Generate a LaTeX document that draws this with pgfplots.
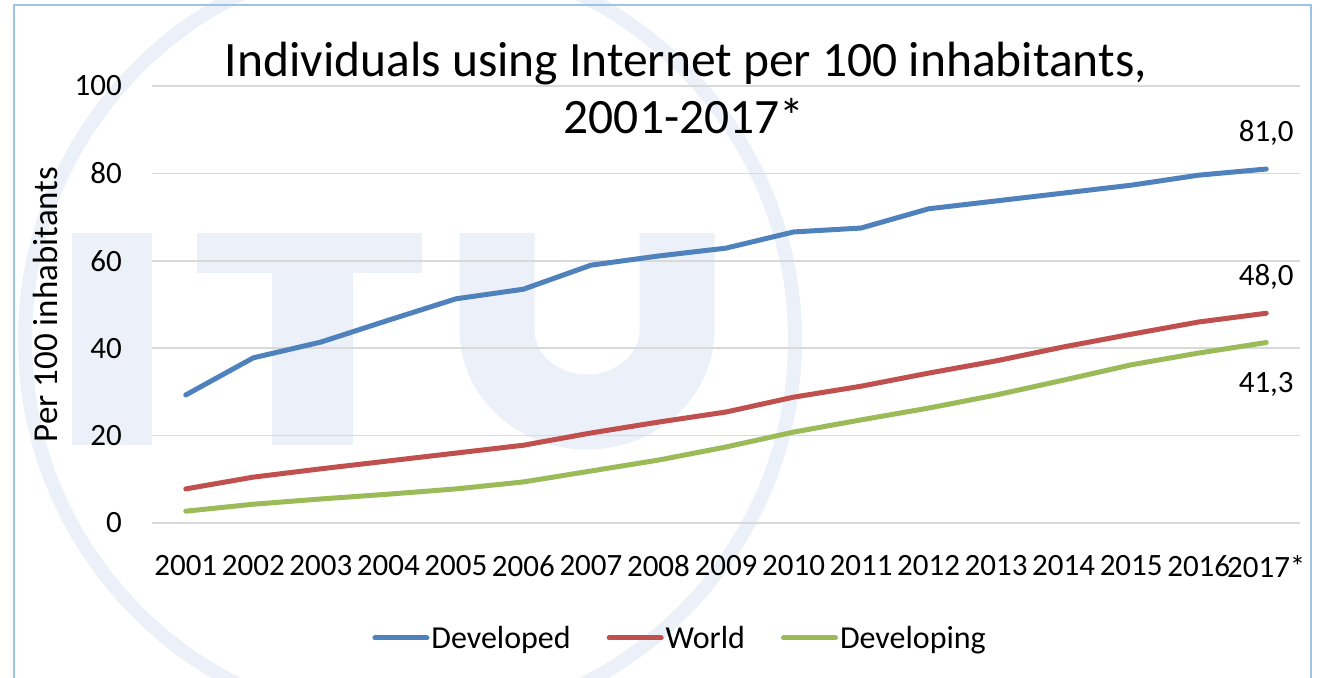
\documentclass[border=0pt]{standalone}
\usepackage{fontspec}
\setmainfont{Carlito}
\usepackage{pgfplots}
\usepackage{pgfplotstable}
\pgfplotsset{compat=1.18}
\definecolor{cBlue}{HTML}{4F81BD}
\definecolor{cRed}{HTML}{C0504D}
\definecolor{cGreen}{HTML}{9BBB59}
\definecolor{wm}{RGB}{236,241,249}
\definecolor{framec}{HTML}{9DC3E6}
\definecolor{gridc}{RGB}{217,217,217}

\pgfplotstableread{
x dev world deving
1  29.3  7.8  2.7
2  37.8 10.5  4.3
3  41.4 12.4  5.5
4  46.4 14.2  6.6
5  51.3 16.0  7.8
6  53.5 17.8  9.4
7  59.0 20.6 11.9
8  61.1 23.1 14.4
9  62.9 25.4 17.4
10 66.6 28.8 20.8
11 67.5 31.3 23.6
12 71.9 34.3 26.3
13 73.7 37.1 29.3
14 75.5 40.3 32.7
15 77.3 43.2 36.2
16 79.6 46.0 38.9
17 81.0 48.0 41.3
}\datatable

\begin{document}
\begin{tikzpicture}[x=1pt,y=1pt]
\useasboundingbox (0pt,0pt) rectangle (1324pt,-677pt);
% faint watermark
\draw[wm, line width=14pt] (410pt,-340pt) circle (385pt);
\fill[wm] (72pt,-233pt) rectangle (152pt,-445pt);
\fill[wm] (197pt,-233pt) rectangle (422pt,-273pt);
\fill[wm] (272pt,-273pt) rectangle (353pt,-445pt);
\draw[wm, line width=75pt] (497pt,-233pt) -- (497pt,-330pt) arc[start angle=180, end angle=360, x radius=90pt, y radius=82pt] -- (677pt,-233pt);
% frame
\draw[framec, line width=1.5pt] (14pt,-5pt) rectangle (1311pt,-720pt);
% title
\node[anchor=base, font=\fontsize{49.5}{56}\selectfont, inner sep=0pt] at (686pt,-77pt) {Individuals using Internet per 100 inhabitants,};
\node[anchor=base, font=\fontsize{49.5}{56}\selectfont, inner sep=0pt] at (684pt,-133pt) {2001-2017*};
\begin{axis}[
  at={(152pt,-523pt)}, anchor=south west,
  scale only axis, width=1148pt, height=437pt,
  xmin=0.5, xmax=17.5, ymin=0, ymax=100,
  xtick={1,...,17},
  xticklabels={2001,2002,2003,2004,2005,2006,2007,2008,2009,2010,2011,2012,2013,2014,2015,2016,2017*},
  ytick={0,20,40,60,80,100},
  ymajorgrids, grid style={draw=gridc, line width=1.5pt},
  axis line style={draw=none}, major tick style={draw=none},
  /pgf/number format/assume math mode=true,
  tick label style={font=\fontsize{31}{31}\selectfont, inner sep=0pt},
  yticklabel style={xshift=-30pt},
  xticklabel style={yshift=-32pt},
  ylabel={Per 100 inhabitants},
  ylabel style={at={(axis description cs:-0.0932,0.5)}, anchor=center, font=\fontsize{35}{35}\selectfont},
  clip=false,
  legend columns=3,
  legend style={at={(0.46,-0.263)}, anchor=center, draw=none, fill=none,
    font=\fontsize{32}{32}\selectfont, nodes={inner sep=2pt},
    /tikz/every even column/.append style={column sep=34pt}},
  legend image code/.code={\draw[#1, line width=5pt, line cap=round] (0pt,0pt) -- (52pt,0pt);},
]
\addplot[cBlue, line width=5pt, line join=round, line cap=round] table[x=x, y=dev] {\datatable};
\addlegendentry{Developed}
\addplot[cRed, line width=5pt, line join=round, line cap=round] table[x=x, y=world] {\datatable};
\addlegendentry{World}
\addplot[cGreen, line width=5pt, line join=round, line cap=round] table[x=x, y=deving] {\datatable};
\addlegendentry{Developing}
\node[font=\fontsize{31}{31}\selectfont, yshift=36pt] at (axis cs:17,81.0) {81,0};
\node[font=\fontsize{31}{31}\selectfont, yshift=36pt] at (axis cs:17,48.0) {48,0};
\node[font=\fontsize{31}{31}\selectfont, yshift=-41.5pt] at (axis cs:17,41.3) {41,3};
\end{axis}
\end{tikzpicture}
\end{document}
